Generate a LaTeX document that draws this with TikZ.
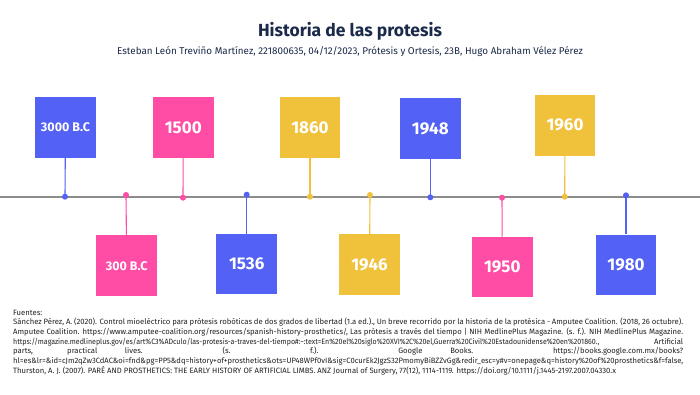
\documentclass[tikz,border=0pt]{standalone}
\usepackage{fontspec}
\setmainfont{Fira Sans}
\usepackage{graphicx}
\definecolor{tlblue}{HTML}{5361F5}
\definecolor{tlpink}{HTML}{FF4DA6}
\definecolor{tlyellow}{HTML}{F0C23C}
\definecolor{tlgrey}{HTML}{8C8C8C}
\definecolor{titlenavy}{HTML}{1B2A4A}
\definecolor{foottext}{HTML}{222222}
\tikzset{
  yearbox/.style={minimum width=60.5pt, minimum height=60.5pt, inner sep=0pt, text=white, font=\bfseries\fontsize{17}{18}\selectfont},
  bcbox/.style={yearbox, font=\bfseries\fontsize{12.5}{15}\selectfont},
  stem/.style={line width=1.1pt},
  dot/.style={circle, inner sep=0pt, minimum size=6pt},
  footline/.style={anchor=base west, inner sep=0pt, text=foottext, font=\fontsize{7.7}{9}\selectfont},
}
\newlength{\footw}
\setlength{\footw}{670pt}
\begin{document}
\begin{tikzpicture}[x=1pt,y=-1pt]
\useasboundingbox (0,0) rectangle (700,394);
\fill[white] (0,0) rectangle (700,394);
% title
\node[anchor=base, inner sep=0pt, text=titlenavy, font=\bfseries\fontsize{17.5}{20}\selectfont] (title) at (350,36.7) {Historia de las protesis};
\node[anchor=base, inner sep=0pt, text=titlenavy, font=\fontsize{9.85}{11}\selectfont] (subtitle) at (350,54.7) {Esteban León Treviño Martínez, 221800635, 04/12/2023, Prótesis y Ortesis, 23B, Hugo Abraham Vélez Pérez};
% axis
\coordinate (axl) at (0,197);
\coordinate (axr) at (700,197);
\draw[tlgrey, line width=1.5pt] (axl) -- (axr);
% events
\foreach \nm/\bx/\by/\dx/\dy/\col/\sty/\lab in {
  e1/65.5/127.5/65/196.7/tlblue/bcbox/3000 B.C,
  e2/126.7/265.7/126/195/tlpink/bcbox/300 B.C,
  e3/183.3/127.3/183/197.7/tlpink/yearbox/1500,
  e4/246.7/264/246.7/194.7/tlblue/yearbox/1536,
  e5/310/127.7/310/196.7/tlyellow/yearbox/1860,
  e6/369.5/264.7/370/195/tlyellow/yearbox/1946,
  e7/430.3/128.5/430.3/197.3/tlblue/yearbox/1948,
  e8/502.3/267/502/197.7/tlpink/yearbox/1950,
  e9/565/125.3/564.7/196.7/tlyellow/yearbox/1960,
  e10/626/264.8/626/195.3/tlblue/yearbox/1980}{
  \node[\sty, fill=\col] (\nm) at (\bx,\by) {\lab};
  \coordinate (\nm d) at (\dx,\dy);
  \draw[stem, \col] (\nm) -- (\nm d);
  \node[dot, fill=\col] (\nm dot) at (\nm d) {};
}
% footer
\node[footline] (f1) at (13,315) {Fuentes:};
\node[footline] (f2) at (13,324.7) {\makebox[\footw][s]{Sánchez Pérez, A. (2020). Control mioeléctrico para prótesis robóticas de dos grados de libertad (1.a ed.)., Un breve recorrido por la historia de la protésica - Amputee Coalition. (2018, 26 octubre).}};
\node[footline] (f3) at (13,334.3) {\makebox[\footw][s]{Amputee Coalition. https://www.amputee-coalition.org/resources/spanish-history-prosthetics/, Las prótesis a través del tiempo | NIH MedlinePlus Magazine. (s. f.). NIH MedlinePlus Magazine.}};
\node[footline] (f4) at (13,344) {\makebox[\footw][s]{\resizebox{586pt}{\height}{https://magazine.medlineplus.gov/es/art\%C3\%ADculo/las-protesis-a-traves-del-tiempo\#:\textasciitilde:text=En\%20el\%20siglo\%20XVI\%2C\%20el,Guerra\%20Civil\%20Estadounidense\%20en\%201860.,}\hfill Artificial}};
\node[footline] (f5) at (13,353.7) {\makebox[\footw][s]{parts, practical lives. (s. f.). Google Books. https://books.google.com.mx/books?}};
\node[footline] (f6) at (13,363.3) {\resizebox{\footw}{\height}{hl=es\&lr=\&id=cJm2qZw3CdAC\&oi=fnd\&pg=PP5\&dq=history+of+prosthetics\&ots=UP48WPf0vI\&sig=C0curEk2JgzS32PmomyBiBZZvGg\&redir\_esc=y\#v=onepage\&q=history\%20of\%20prosthetics\&f=false,}};
\node[footline] (f7) at (13,373) {Thurston, A. J. (2007). PARÉ AND PROSTHETICS: THE EARLY HISTORY OF ARTIFICIAL LIMBS. ANZ Journal of Surgery, 77(12), 1114-1119. https://doi.org/10.1111/j.1445-2197.2007.04330.x};
\end{tikzpicture}
\end{document}
